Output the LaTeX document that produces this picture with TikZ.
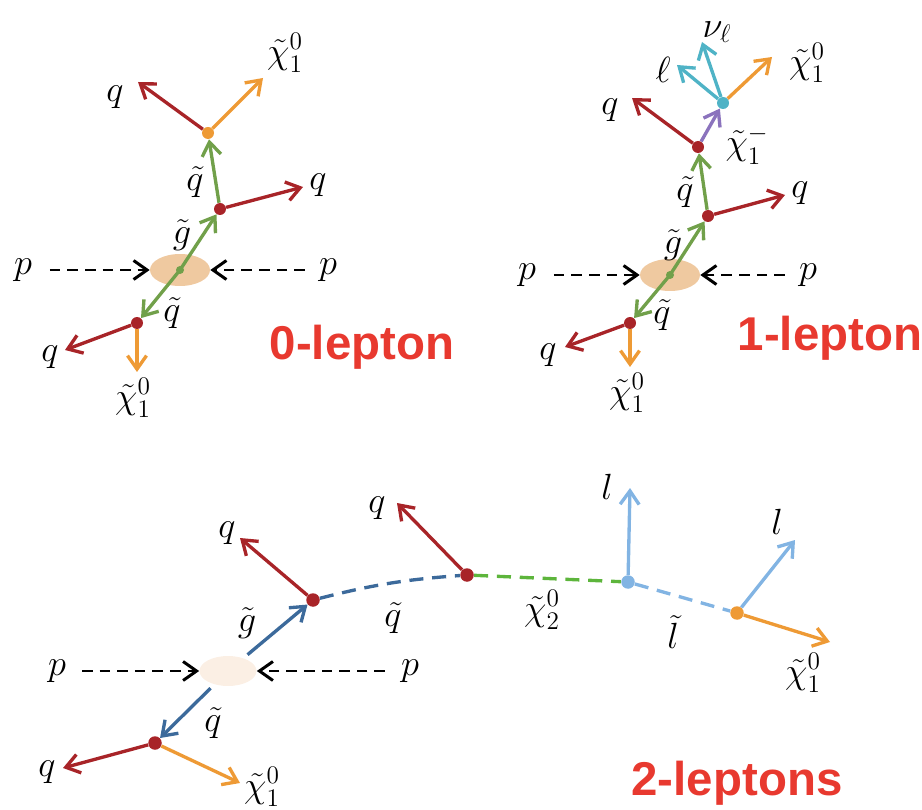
\documentclass[tikz,border=0pt]{standalone}
\usepackage{amsmath,amssymb}
\usepackage{fontspec}
\usepackage{tikz}
\usetikzlibrary{arrows.meta,positioning,calc,shapes.geometric}
\newfontfamily\tagsans{Liberation Sans}
\definecolor{quark}{HTML}{A82428}
\definecolor{gluino}{HTML}{71A04A}
\definecolor{lsp}{HTML}{EE9A35}
\definecolor{blobtan}{HTML}{EFC9A0}
\definecolor{blobpale}{HTML}{FBEFE4}
\definecolor{lepton}{HTML}{4FB3C6}
\definecolor{chargino}{HTML}{8B73BD}
\definecolor{steel}{HTML}{3C6A9B}
\definecolor{slepton}{HTML}{82B4E3}
\definecolor{neutralino}{HTML}{5DB53C}
\definecolor{tagred}{HTML}{E8392F}

\begin{document}
\begin{tikzpicture}[x=0.02cm,y=-0.02cm,>={Straight Barb[length=2.7mm,width=3.8mm]},
  vtx/.style={circle,inner sep=0pt,minimum size=2.4mm},
  bigvtx/.style={circle,inner sep=0pt,minimum size=2.7mm},
  blob/.style={ellipse,inner sep=0pt,minimum width=1.2cm,minimum height=0.64cm},
  lbl/.style={inner sep=0pt,font=\fontsize{22.5}{26}\selectfont},
  prt/.style={->,line width=1.9pt},
  beam/.style={->,black,line width=1.7pt,dash pattern=on 6pt off 4pt},
  prop/.style={line width=1.9pt,dash pattern=on 8pt off 5pt},
  tag/.style={inner sep=0pt,text=tagred,font=\fontsize{27}{30}\selectfont\tagsans\bfseries}]
 \useasboundingbox (0,0) rectangle (922,810);
 % 0-lepton
 \node[blob,fill=blobtan] (blobA) at (180,270) {};
 \node[lbl] (pA1) at (23,270) {$p$};
 \node[lbl] (pA2) at (328,270) {$p$};
 \draw[beam,shorten <=10pt] (pA1) -- (blobA);
 \draw[beam,shorten <=8pt] (pA2) -- (blobA);
 \node[vtx,fill=quark] (uA) at (220,209) {};
 \node[vtx,fill=lsp] (tA) at (208,133) {};
 \node[vtx,fill=quark] (dA) at (137,323) {};
 \draw[prt,gluino] (blobA.center) -- (uA);
 \draw[prt,gluino] (uA) -- (tA);
 \draw[prt,gluino] (blobA.center) -- (dA);
 \node[circle,inner sep=0pt,minimum size=1.6mm,fill=gluino] (cA) at (blobA.center) {};
 \coordinate (qA1) at (303,187);
 \coordinate (qA2) at (138,82);
 \coordinate (xA1) at (263,78);
 \coordinate (qA3) at (65,350);
 \coordinate (xA2) at (137,372);
 \draw[prt,quark] (uA) -- (qA1);
 \draw[prt,quark] (tA) -- (qA2);
 \draw[prt,lsp] (tA) -- (xA1);
 \draw[prt,quark] (dA) -- (qA3);
 \draw[prt,lsp] (dA) -- (xA2);
 \node[lbl] at (318,185) {$q$};
 \node[lbl] at (115,97) {$q$};
 \node[lbl] at (285,53) {$\tilde\chi^0_1$};
 \node[lbl] at (50,357) {$q$};
 \node[lbl] at (133,398) {$\tilde\chi^0_1$};
 \node[lbl] at (195,182) {$\tilde q$};
 \node[lbl] at (182,235) {$\tilde g$};
 \node[lbl] at (172,313) {$\tilde q$};
 \node[tag] at (362,347) {0-lepton};
 % 1-lepton
 \node[blob,fill=blobtan] (blobB) at (670,275) {};
 \node[lbl] (pB1) at (527,275) {$p$};
 \node[lbl] (pB2) at (808,275) {$p$};
 \draw[beam,shorten <=10pt] (pB1) -- (blobB);
 \draw[beam,shorten <=8pt] (pB2) -- (blobB);
 \node[vtx,fill=quark] (uB) at (708,216) {};
 \node[vtx,fill=quark] (tB) at (698,147) {};
 \node[vtx,fill=lepton] (cB) at (723,103) {};
 \node[vtx,fill=quark] (dB) at (630,323) {};
 \draw[prt,gluino] (blobB.center) -- (uB);
 \draw[prt,gluino] (uB) -- (tB);
 \draw[prt,gluino] (blobB.center) -- (dB);
 \draw[prt,chargino] (tB) -- (cB);
 \node[circle,inner sep=0pt,minimum size=1.6mm,fill=gluino] (cB0) at (blobB.center) {};
 \coordinate (qB1) at (785,195);
 \coordinate (qB2) at (632,98);
 \coordinate (lB) at (677,65);
 \coordinate (nB) at (702,42);
 \coordinate (xB1) at (772,57);
 \coordinate (qB3) at (565,347);
 \coordinate (xB2) at (630,367);
 \draw[prt,quark] (uB) -- (qB1);
 \draw[prt,quark] (tB) -- (qB2);
 \draw[prt,lepton] (cB) -- (lB);
 \draw[prt,lepton] (cB) -- (nB);
 \draw[prt,lsp] (cB) -- (xB1);
 \draw[prt,quark] (dB) -- (qB3);
 \draw[prt,lsp] (dB) -- (xB2);
 \node[lbl] at (800,193) {$q$};
 \node[lbl] at (610,110) {$q$};
 \node[lbl] at (663,70) {$\ell$};
 \node[lbl] at (717,32) {$\nu_\ell$};
 \node[lbl] at (807,63) {$\tilde\chi^0_1$};
 \node[lbl] at (747,145) {$\tilde\chi^-_1$};
 \node[lbl] at (548,355) {$q$};
 \node[lbl] at (627,393) {$\tilde\chi^0_1$};
 \node[lbl] at (685,192) {$\tilde q$};
 \node[lbl] at (673,245) {$\tilde g$};
 \node[lbl] at (662,315) {$\tilde q$};
 \node[tag] at (830,338) {1-lepton};
 % 2-leptons
 \node[blob,fill=blobpale,minimum width=1.14cm,minimum height=0.6cm] (blobC) at (228,671) {};
 \node[lbl] (pC1) at (57,671) {$p$};
 \node[lbl] (pC2) at (410,671) {$p$};
 \draw[beam,shorten <=9pt] (pC1) -- (blobC);
 \draw[beam,shorten <=9pt] (pC2) -- (blobC);
 \node[bigvtx,fill=quark] (aC) at (313,600) {};
 \node[bigvtx,fill=quark] (bC) at (467,575) {};
 \node[bigvtx,fill=slepton] (cC) at (628,582) {};
 \node[bigvtx,fill=lsp] (dC) at (737,613) {};
 \node[bigvtx,fill=quark] (eC) at (155,743) {};
 \draw[prt,steel,shorten <=3pt] (blobC) -- (aC);
 \draw[prt,steel,shorten <=3pt] (blobC) -- (eC);
 \draw[prop,steel] (aC) to[bend left=5] (bC);
 \draw[prop,neutralino] (bC) -- (cC);
 \draw[prop,slepton] (cC) -- (dC);
 \coordinate (qC1) at (240,538);
 \coordinate (qC2) at (397,503);
 \coordinate (qC3) at (63,768);
 \coordinate (xC1) at (240,783);
 \coordinate (lC1) at (630,488);
 \coordinate (lC2) at (795,540);
 \coordinate (xC2) at (830,642);
 \draw[prt,quark] (aC) -- (qC1);
 \draw[prt,quark] (bC) -- (qC2);
 \draw[prt,quark] (eC) -- (qC3);
 \draw[prt,lsp] (eC) -- (xC1);
 \draw[prt,slepton] (cC) -- (lC1);
 \draw[prt,slepton] (dC) -- (lC2);
 \draw[prt,lsp] (dC) -- (xC2);
 \node[lbl] at (227,533) {$q$};
 \node[lbl] at (377,508) {$q$};
 \node[lbl] at (47,772) {$q$};
 \node[lbl] at (262,787) {$\tilde\chi^0_1$};
 \node[lbl] at (607,487) {$l$};
 \node[lbl] at (777,522) {$l$};
 \node[lbl] at (803,673) {$\tilde\chi^0_1$};
 \node[lbl] at (247,623) {$\tilde g$};
 \node[lbl] at (213,723) {$\tilde q$};
 \node[lbl] at (393,618) {$\tilde q$};
 \node[lbl] at (542,610) {$\tilde\chi^0_2$};
 \node[lbl] at (673,632) {$\tilde l$};
 \node[tag] at (737,783) {2-leptons};
\end{tikzpicture}
\end{document}
